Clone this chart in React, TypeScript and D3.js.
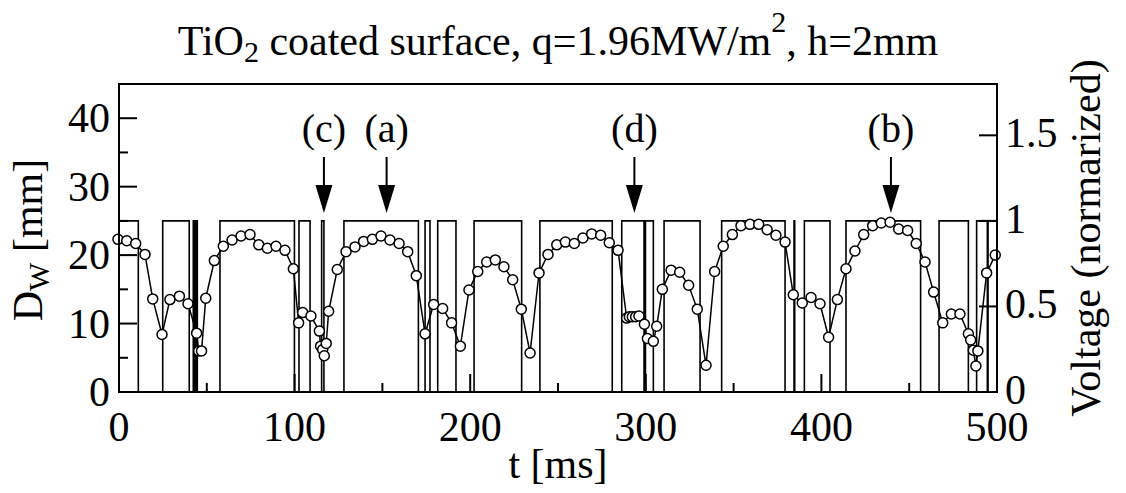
import React from 'react';
import * as d3 from 'd3';

// Film diameter D_W sampled in time
const tMs = [
  -0.6, 4.4, 9.5, 14.8, 19.2, 24.5, 29.0, 34.4, 39.3, 44.2, 45.4, 47.0, 49.4, 54.3,
  59.4, 64.4, 69.5, 74.6, 79.6, 84.5, 89.4, 94.5, 99.3, 102.3, 104.6, 109.3, 114.1,
  114.8, 116.0, 116.9, 118.0, 119.4, 124.3, 129.3, 134.4, 139.3, 144.3, 149.2, 154.3,
  159.5, 164.4, 169.3, 174.3, 179.2, 184.3, 189.4, 194.4, 199.3, 204.3, 209.4, 214.3,
  219.2, 224.2, 229.1, 234.1, 239.2, 244.3, 249.3, 254.2, 259.3, 264.2, 269.2, 274.3,
  279.2, 284.2, 289.1, 290.6, 292.3, 294.2, 296.1, 299.2, 300.9, 304.3, 306.2, 309.4,
  314.4, 319.3, 324.4, 329.3, 334.3, 339.2, 344.1, 349.3, 354.2, 359.3, 364.3, 369.1,
  374.1, 379.3, 384.0, 389.1, 394.1, 399.2, 404.1, 409.1, 414.0, 419.1, 424.1, 429.2,
  434.1, 439.1, 444.0, 449.1, 454.0, 459.0, 463.9, 469.1, 474.0, 478.9, 483.7, 485.0,
  486.5, 488.0, 489.1, 494.1, 499.0,
];
const dwMm = [
  22.3, 22.1, 21.7, 20.1, 13.6, 8.4, 13.5, 14.0, 12.9, 8.6, 6.0, 6.0, 13.7, 19.2,
  21.3, 22.2, 22.8, 23.0, 21.5, 21.0, 21.3, 20.7, 18.0, 10.1, 11.6, 11.1, 8.9,
  6.7, 6.2, 5.3, 7.1, 11.8, 17.9, 20.5, 21.2, 22.0, 22.3, 22.8, 22.2,
  21.7, 20.5, 17.0, 8.5, 12.8, 12.2, 10.1, 6.7, 14.9, 17.6, 19.0, 19.3,
  18.3, 16.4, 12.1, 5.7, 17.4, 20.1, 21.5, 21.9, 21.7, 22.5, 23.1, 22.9,
  21.8, 20.7, 10.8, 11.0, 11.0, 11.0, 11.1, 9.9, 7.8, 7.4, 9.6, 15.0,
  17.8, 17.5, 15.6, 12.1, 3.9, 17.6, 21.3, 23.0, 24.3, 24.5, 24.5, 23.7,
  22.9, 21.9, 14.2, 13.0, 13.8, 12.9, 8.0, 13.5, 18.0, 20.6, 23.0, 24.3,
  24.7, 24.8, 23.8, 23.6, 21.7, 19.0, 14.6, 10.1, 11.4, 11.4, 8.5, 7.6,
  6.1, 3.8, 6.0, 17.4, 20.0,
];

// Normalized voltage: intervals where the signal is high (1), low (0) elsewhere
const pulseOn = [
  0, 24.9, 42.3, 43.8, 57.5, 102.5, 115.4, 128.1, 174.3, 181.5, 202.2, 239.7,
  286.3, 299.8, 310.4, 343.2, 384.4, 390.3, 414.0, 467.0, 488.4, 494.9,
];
const pulseOff = [
  11.0, 40.0, 43.0, 44.6, 99.9, 108.8, 116.7, 170.5, 177.1, 191.9, 229.3, 280.9,
  299.0, 304.3, 330.9, 379.3, 384.8, 404.9, 456.5, 483.7, 494.5, 500,
];

const xTicks = [0, 100, 200, 300, 400, 500];
const xMinor = [50, 150, 250, 350, 450];
const yTicks = [0, 10, 20, 30, 40];
const yMinor = [5, 15, 25, 35];
const vTicks = [0, 0.5, 1, 1.5];
const vTickLabels = ['0', '0.5', '1', '1.5'];

const markerLabels = ['(c)', '(a)', '(d)', '(b)'];
const markerTimes = [116.7, 152.4, 293.5, 439.6];

const W = 1126;
const H = 493;
const L = 119;
const R = 997;
const T = 84;
const B = 392;
const FONT = '"Liberation Serif", "Times New Roman", serif';

export default function App() {
  const x = d3.scaleLinear().domain([0, 500]).range([L, R]);
  const y = d3.scaleLinear().domain([0, 45]).range([B, T]);
  const yv = d3.scaleLinear().domain([0, 1.8]).range([B, T]);

  const pts: [number, number][] = tMs.map((t, i) => [t, dwMm[i]]);
  const dataLine = d3
    .line<[number, number]>()
    .x((d) => x(d[0]))
    .y((d) => y(d[1]))(pts);

  const wavePts: [number, number][] = [[0, 0]];
  pulseOn.forEach((s, i) => {
    const e = pulseOff[i];
    wavePts.push([s, 0], [s, 1], [e, 1], [e, 0]);
  });
  wavePts.push([500, 0]);
  const wavePath = d3
    .line<[number, number]>()
    .x((d) => x(d[0]))
    .y((d) => yv(d[1]))(wavePts);

  const major = 18;
  const minor = 9;

  return (
    <div style={{ position: 'absolute', left: 0, top: 0 }}>
      <svg width={W} height={H} viewBox={`0 0 ${W} ${H}`} style={{ display: 'block', background: '#fff', fontFamily: FONT }}>
        <rect x={0} y={0} width={W} height={H} fill="#fff" />
        {/* voltage signal */}
        <path d={wavePath || ''} fill="none" stroke="#000" strokeWidth={1.6} />

        {/* D_W series */}
        <path d={dataLine || ''} fill="none" stroke="#000" strokeWidth={1.5} />
        {pts.map((d, i) => (
          <circle key={i} cx={x(d[0])} cy={y(d[1])} r={5} fill="#fff" stroke="#000" strokeWidth={1.5} />
        ))}

        {/* frame */}
        <rect x={L} y={T} width={R - L} height={B - T} fill="none" stroke="#000" strokeWidth={2} />

        {/* bottom axis ticks */}
        {xTicks.map((t) => (
          <line key={'xt' + t} x1={x(t)} x2={x(t)} y1={B} y2={B - major} stroke="#000" strokeWidth={2} />
        ))}
        {xMinor.map((t) => (
          <line key={'xm' + t} x1={x(t)} x2={x(t)} y1={B} y2={B - minor} stroke="#000" strokeWidth={2} />
        ))}
        {xTicks.map((t) => (
          <text key={'xl' + t} x={x(t)} y={441} textAnchor="middle" fontSize={42}>
            {t}
          </text>
        ))}

        {/* left axis */}
        {yTicks.map((v) => (
          <line key={'yt' + v} x1={L} x2={L + major} y1={y(v)} y2={y(v)} stroke="#000" strokeWidth={2} />
        ))}
        {yMinor.map((v) => (
          <line key={'ym' + v} x1={L} x2={L + minor} y1={y(v)} y2={y(v)} stroke="#000" strokeWidth={2} />
        ))}
        {yTicks.map((v) => (
          <text key={'yl' + v} x={110} y={y(v) + 14} textAnchor="end" fontSize={42}>
            {v}
          </text>
        ))}

        {/* right axis */}
        {vTicks.map((v) => (
          <line key={'vt' + v} x1={R} x2={R - major} y1={yv(v)} y2={yv(v)} stroke="#000" strokeWidth={2} />
        ))}
        {vTicks.map((v, i) => (
          <text key={'vl' + v} x={1005} y={yv(v) + 12} textAnchor="start" fontSize={42}>
            {vTickLabels[i]}
          </text>
        ))}

        {/* event markers */}
        {markerTimes.map((t, i) => {
          const cx = x(t);
          return (
            <g key={'mk' + i}>
              <text x={cx} y={142} textAnchor="middle" fontSize={40}>
                {markerLabels[i]}
              </text>
              <line x1={cx} x2={cx} y1={157} y2={186} stroke="#000" strokeWidth={2} />
              <path d={`M${cx - 8.5},185 L${cx + 8.5},185 L${cx},213 Z`} fill="#000" />
            </g>
          );
        })}

        {/* title */}
        <text x={558} y={55} textAnchor="middle" fontSize={42}>
          TiO
          <tspan dy={7} fontSize={30}>2</tspan>
          <tspan dy={-7}> coated surface, q=1.96MW/m</tspan>
          <tspan dy={-23} fontSize={30}>2</tspan>
          <tspan dy={23}>, h=2mm</tspan>
        </text>

        {/* axis titles */}
        <text x={558} y={478} textAnchor="middle" fontSize={42}>
          t [ms]
        </text>
        <text transform="translate(42,240) rotate(-90)" textAnchor="middle" fontSize={42}>
          D<tspan dy={7} fontSize={30}>W</tspan>
          <tspan dy={-7}> [mm]</tspan>
        </text>
        <text transform="translate(1100,238) rotate(-90)" textAnchor="middle" fontSize={42}>
          Voltage (normarized)
        </text>
      </svg>
    </div>
  );
}
